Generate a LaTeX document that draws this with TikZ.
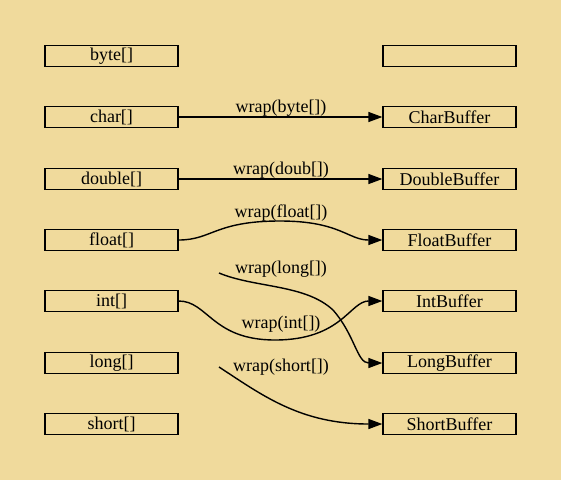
\documentclass[tikz,border=0pt]{standalone}
\usepackage{fontspec}
\setmainfont{Liberation Serif}
\usetikzlibrary{arrows.meta}
\definecolor{bg}{HTML}{F0DA9C}
\begin{document}
\begin{tikzpicture}[x=1pt,y=-1pt,
  box/.style={draw,line width=1.3pt,minimum width=133pt,minimum height=21pt,inner sep=0pt,font=\fontsize{18}{19}\selectfont},
  lbl/.style={font=\fontsize{18}{19}\selectfont,inner sep=0pt},
  conn/.style={line width=1.4pt,-{Triangle[length=14pt,width=10pt]}}]
\fill[bg] (0,0) rectangle (561,480);
\useasboundingbox (0,0) rectangle (561,480);
\node[box] (L1) at (111.5,56) {byte[]};
\node[box] (L2) at (111.5,117) {char[]};
\node[box] (L3) at (111.5,179) {double[]};
\node[box] (L4) at (111.5,240) {float[]};
\node[box] (L5) at (111.5,301) {int[]};
\node[box] (L6) at (111.5,363) {long[]};
\node[box] (L7) at (111.5,424) {short[]};
\node[box] (R1) at (449.5,56) {};
\node[box] (R2) at (449.5,117) {CharBuffer};
\node[box] (R3) at (449.5,179) {DoubleBuffer};
\node[box] (R4) at (449.5,240) {FloatBuffer};
\node[box] (R5) at (449.5,301) {IntBuffer};
\node[box] (R6) at (449.5,363) {LongBuffer};
\node[box] (R7) at (449.5,424) {ShortBuffer};
\coordinate (s6) at (219,273);
\coordinate (s7) at (219,367);
\node[lbl] (w2) at (281,108) {wrap(byte[])};
\node[lbl] (w3) at (281,170) {wrap(doub[])};
\node[lbl] (w4) at (281,213) {wrap(float[])};
\node[lbl] (w6) at (281,269) {wrap(long[])};
\node[lbl] (w5) at (281,324) {wrap(int[])};
\node[lbl] (w7) at (281,367) {wrap(short[])};
\draw[conn] (L2.east) -- (R2.west);
\draw[conn] (L3.east) -- (R3.west);
\draw[conn] (L4.east) .. controls (212,240) and (215,221) .. (280,221) .. controls (340,221) and (348,240) .. (R4.west);
\draw[conn] (L5.east) .. controls (208,301) and (212,340) .. (275,340) .. controls (342,340) and (350,301) .. (R5.west);
\draw[conn] (s6) .. controls (255,288) and (305,284) .. (333,310) .. controls (355,335) and (357,363) .. (R6.west);
\draw[conn] (s7) .. controls (262,395) and (300,424) .. (R7.west);
\end{tikzpicture}
\end{document}
